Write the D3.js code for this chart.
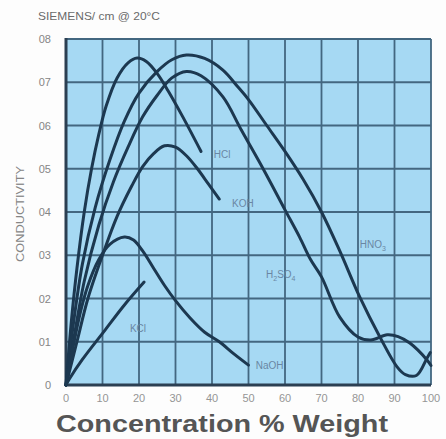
<!DOCTYPE html>
<html>
<head>
<meta charset="utf-8">
<script src="https://cdn.jsdelivr.net/npm/d3@7"></script>
<style>
  html, body { margin: 0; padding: 0; background: #fdfdfd; }
  svg { display: block; }
</style>
</head>
<body>
<svg id="chart" width="446" height="439"></svg>
<script>
// Conductivity (S/cm at 20°C) against concentration (% by weight)
const xTicks = [0, 10, 20, 30, 40, 50, 60, 70, 80, 90, 100];
const yTicks = [0, 0.1, 0.2, 0.3, 0.4, 0.5, 0.6, 0.7, 0.8];
const yTickLabels = ["0", "01", "02", "03", "04", "05", "06", "07", "08"];

const hcl = [[0,0],[1.5,0.15],[3,0.27],[5,0.4],[7,0.5],[9,0.58],[11,0.645],[14,0.71],[17,0.745],[19.5,0.756],[22,0.748],[25,0.72],[28,0.68],[32,0.62],[37,0.54]];
const hno3 = [[0,0],[2,0.14],[4.5,0.28],[8,0.41],[12,0.52],[16,0.61],[20,0.675],[25,0.725],[29,0.752],[33,0.763],[38,0.755],[43,0.728],[47,0.69],[50,0.66],[55,0.6],[60,0.54],[65,0.475],[70,0.4],[75,0.31],[80.5,0.203],[86,0.111],[90.7,0.042],[93,0.024],[96,0.022],[98.9,0.062],[99.8,0.075]];
const h2so4 = [[0,0],[2,0.1],[5,0.24],[9,0.37],[13,0.47],[17,0.55],[21,0.62],[25,0.67],[29,0.71],[33,0.725],[37,0.715],[43,0.666],[48,0.59],[54,0.5],[60,0.405],[64,0.342],[67,0.29],[70,0.25],[75,0.157],[80,0.111],[83.5,0.104],[88,0.116],[91,0.112],[94.2,0.097],[98.9,0.058],[100,0.045]];
const koh = [[0,0],[3,0.1],[6,0.2],[10,0.3],[14,0.39],[18,0.46],[21,0.505],[24,0.535],[27,0.553],[30,0.55],[33,0.53],[36,0.5],[39,0.465],[42,0.43]];
const naoh = [[0,0],[2,0.09],[4,0.17],[6,0.23],[9,0.29],[12,0.325],[16,0.342],[18.5,0.335],[21,0.31],[24,0.27],[27,0.23],[30,0.195],[34,0.155],[38,0.122],[42,0.1],[46,0.072],[50,0.046]];
const kcl = [[0,0],[1,0.015],[4.4,0.058],[10.7,0.127],[16,0.185],[21.4,0.238]];

const seriesList = [hcl, hno3, h2so4, koh, naoh, kcl];

// Curve labels, placed in data units next to each curve
const curveLabels = [
  { parts: [["HCl", false]], c: 40.5, v: 0.534 },
  { parts: [["KOH", false]], c: 45.5, v: 0.42 },
  { parts: [["HNO", false], ["3", true]], c: 80.5, v: 0.325 },
  { parts: [["H", false], ["2", true], ["SO", false], ["4", true]], c: 54.8, v: 0.255 },
  { parts: [["NaOH", false]], c: 52, v: 0.045 },
  { parts: [["KCl", false]], c: 17.5, v: 0.13 }
];

const svg = d3.select("#chart");
const plotLeft = 66, plotRight = 431, plotTop = 39, plotBottom = 385;
const x = d3.scaleLinear().domain([0, 100]).range([plotLeft, plotRight]);
const y = d3.scaleLinear().domain([0, 0.8]).range([plotBottom, plotTop]);

const gridColor = "#436780";
const curveColor = "#1c3850";
const textGray = "#858585";
const narrowFont = "'Liberation Sans Narrow', 'Liberation Sans', Arial, sans-serif";

// plot background
svg.append("rect")
  .attr("x", plotLeft).attr("y", plotTop)
  .attr("width", plotRight - plotLeft).attr("height", plotBottom - plotTop)
  .attr("fill", "#a6d9f3");

// grid
const grid = svg.append("g");
grid.selectAll("line.v").data(xTicks).join("line").attr("class", "v")
  .attr("x1", d => x(d)).attr("x2", d => x(d))
  .attr("y1", plotTop).attr("y2", plotBottom)
  .attr("stroke", gridColor).attr("stroke-width", 1.8);
grid.selectAll("line.h").data(yTicks).join("line").attr("class", "h")
  .attr("x1", plotLeft).attr("x2", plotRight)
  .attr("y1", d => y(d)).attr("y2", d => y(d))
  .attr("stroke", gridColor).attr("stroke-width", 1.8);

// heavy axis lines
svg.append("line").attr("x1", plotLeft).attr("x2", plotLeft).attr("y1", plotTop - 1).attr("y2", plotBottom + 1)
  .attr("stroke", "#2b3f52").attr("stroke-width", 3);
svg.append("line").attr("x1", plotLeft - 1).attr("x2", plotRight).attr("y1", plotBottom).attr("y2", plotBottom)
  .attr("stroke", "#2b3f52").attr("stroke-width", 3);

// curves
const line = d3.line()
  .x(d => x(d[0])).y(d => y(d[1]))
  .curve(d3.curveCatmullRom.alpha(0.5));
svg.append("g").selectAll("path").data(seriesList).join("path")
  .attr("d", line)
  .attr("fill", "none")
  .attr("stroke", curveColor)
  .attr("stroke-width", 3)
  .attr("stroke-linejoin", "round")
  .attr("stroke-linecap", "round");

// curve labels
const lab = svg.append("g")
  .attr("font-family", narrowFont)
  .attr("font-size", 10)
  .attr("fill", "#6a87a3");
curveLabels.forEach(l => {
  const t = lab.append("text").attr("x", x(l.c)).attr("y", y(l.v) + 3.5);
  let shifted = false;
  l.parts.forEach(p => {
    const dy = p[1] ? (shifted ? 0 : 3) : (shifted ? -3 : 0);
    shifted = p[1];
    t.append("tspan")
      .attr("font-size", p[1] ? 7 : 10)
      .attr("dy", dy)
      .text(p[0]);
  });
});

// y tick labels
svg.append("g").selectAll("text").data(yTicks).join("text")
  .attr("x", 51).attr("y", d => y(d) + 4)
  .attr("text-anchor", "end")
  .attr("font-family", narrowFont)
  .attr("font-size", 11).attr("fill", textGray)
  .text((d, i) => yTickLabels[i]);

// x tick labels
svg.append("g").selectAll("text").data(xTicks).join("text")
  .attr("x", d => x(d)).attr("y", 402)
  .attr("text-anchor", "middle")
  .attr("font-family", narrowFont)
  .attr("font-size", 11).attr("fill", "#959595")
  .text(d => d);

// units
svg.append("text")
  .attr("x", 38).attr("y", 20)
  .attr("font-family", narrowFont)
  .attr("font-size", 11).attr("fill", "#6a6a6a")
  .attr("textLength", 122).attr("lengthAdjust", "spacingAndGlyphs")
  .text("SIEMENS/ cm @ 20°C");

// y axis title
svg.append("text")
  .attr("transform", "translate(24,214) rotate(-90)")
  .attr("text-anchor", "middle")
  .attr("font-family", narrowFont)
  .attr("font-size", 10).attr("fill", textGray)
  .attr("textLength", 96).attr("lengthAdjust", "spacingAndGlyphs")
  .text("CONDUCTIVITY");

// x axis title
svg.append("text")
  .attr("x", 56).attr("y", 432)
  .attr("font-family", "'Liberation Sans', Arial, sans-serif")
  .attr("font-weight", "bold")
  .attr("font-size", 24).attr("fill", "#555555")
  .attr("textLength", 332).attr("lengthAdjust", "spacingAndGlyphs")
  .text("Concentration % Weight");
</script>
</body>
</html>
